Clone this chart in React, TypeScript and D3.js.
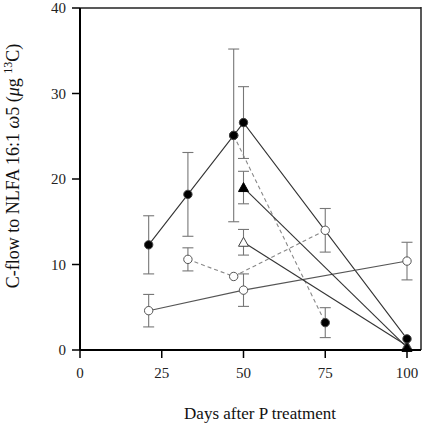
import React from "react";
import * as d3 from "d3";

// Filled circles, solid line
const fcDays = [21, 33, 47, 50, 100];
const fcVals = [12.3, 18.2, 25.1, 26.6, 1.3];
const fcErr = [3.4, 4.9, 10.1, 4.2, 0];
// Filled circles, dashed line (from day 47)
const fdDays = [47, 75];
const fdVals = [25.1, 3.2];
const fdErr = [0, 1.75];
// Open circles, dashed line
const odDays = [33, 47, 75];
const odVals = [10.6, 8.6, 14.0];
const odErr = [1.35, 0, 2.55];
// Open circles, solid line
const osDays = [21, 50, 100];
const osVals = [4.6, 7.0, 10.4];
const osErr = [1.9, 1.9, 2.2];
// Filled triangles
const ftDays = [50, 100];
const ftVals = [19.0, 0.3];
const ftErr = [1.9, 0];
// Open triangles
const otDays = [50, 100];
const otVals = [12.6, 0.5];
const otErr = [1.5, 0];

const xTicks = [0, 25, 50, 75, 100];
const yTicks = [0, 10, 20, 30, 40];

const FONT = "'Liberation Serif', 'DejaVu Serif', serif";

export default function App() {
  const x = d3.scaleLinear().domain([0, 100]).range([80, 407]);
  const y = d3.scaleLinear().domain([0, 40]).range([350, 8]);
  const line = d3
    .line<[number, number]>()
    .x((d) => x(d[0]))
    .y((d) => y(d[1]));

  const zip = (a: number[], b: number[]) => a.map((v, i) => [v, b[i]] as [number, number]);

  const errBars = (days: number[], vals: number[], errs: number[], key: string) =>
    days.map((d, i) =>
      errs[i] > 0 ? (
        <g key={key + i} stroke="#777" strokeWidth={1.1} fill="none">
          <line x1={x(d)} x2={x(d)} y1={y(vals[i] - errs[i])} y2={y(vals[i] + errs[i])} />
          <line x1={x(d) - 5.5} x2={x(d) + 5.5} y1={y(vals[i] - errs[i])} y2={y(vals[i] - errs[i])} />
          <line x1={x(d) - 5.5} x2={x(d) + 5.5} y1={y(vals[i] + errs[i])} y2={y(vals[i] + errs[i])} />
        </g>
      ) : null
    );

  const tri = (cx: number, cy: number) => {
    const s = 5;
    return `M${cx},${cy - s}L${cx + s},${cy + s * 0.8}L${cx - s},${cy + s * 0.8}Z`;
  };

  return (
    <svg width={428} height={426} style={{ position: "absolute", left: 0, top: 0 }}>
      <rect x={0} y={0} width={428} height={426} fill="#fff" />
      {/* error bars */}
      {errBars(fcDays, fcVals, fcErr, "fc")}
      {errBars(fdDays, fdVals, fdErr, "fd")}
      {errBars(odDays, odVals, odErr, "od")}
      {errBars(osDays, osVals, osErr, "os")}
      {errBars(ftDays, ftVals, ftErr, "ft")}
      {errBars(otDays, otVals, otErr, "ot")}

      {/* lines */}
      <path d={line(zip(fcDays, fcVals)) || ""} fill="none" stroke="#333" strokeWidth={1.1} />
      <path d={line(zip(fdDays, fdVals)) || ""} fill="none" stroke="#888" strokeWidth={1.1} strokeDasharray="4,3" />
      <path d={line(zip(odDays, odVals)) || ""} fill="none" stroke="#888" strokeWidth={1.1} strokeDasharray="4,3" />
      <path d={line(zip(osDays, osVals)) || ""} fill="none" stroke="#555" strokeWidth={1.1} />
      <path d={line(zip(ftDays, ftVals)) || ""} fill="none" stroke="#333" strokeWidth={1.1} />
      <path d={line(zip(otDays, otVals)) || ""} fill="none" stroke="#333" strokeWidth={1.1} />

      {/* markers */}
      {osDays.map((d, i) => (
        <circle key={"osm" + i} cx={x(d)} cy={y(osVals[i])} r={4.2} fill="#fff" stroke="#555" strokeWidth={1} />
      ))}
      {odDays.map((d, i) => (
        <circle key={"odm" + i} cx={x(d)} cy={y(odVals[i])} r={4.2} fill="#fff" stroke="#555" strokeWidth={1} />
      ))}
      {otDays.map((d, i) => (
        <path key={"otm" + i} d={tri(x(d), y(otVals[i]))} fill="#fff" stroke="#444" strokeWidth={1} />
      ))}
      {ftDays.map((d, i) => (
        <path key={"ftm" + i} d={tri(x(d), y(ftVals[i]))} fill="#000" stroke="#000" strokeWidth={1} />
      ))}
      {fdDays.map((d, i) => (
        <circle key={"fdm" + i} cx={x(d)} cy={y(fdVals[i])} r={4.2} fill="#000" stroke="#444" strokeWidth={1} />
      ))}
      {fcDays.map((d, i) => (
        <circle key={"fcm" + i} cx={x(d)} cy={y(fcVals[i])} r={4.2} fill="#000" stroke="#444" strokeWidth={1} />
      ))}

      {/* frame */}
      <line x1={80} x2={421} y1={8} y2={8} stroke="#222" strokeWidth={1.5} />
      <line x1={421} x2={421} y1={7} y2={350} stroke="#222" strokeWidth={1.5} />
      <line x1={80} x2={80} y1={8} y2={350} stroke="#000" strokeWidth={2} />
      <line x1={80} x2={421} y1={350} y2={350} stroke="#000" strokeWidth={2} />

      {/* y ticks */}
      {yTicks.map((t) => (
        <g key={"yt" + t}>
          <line x1={72} x2={80} y1={y(t)} y2={y(t)} stroke="#000" strokeWidth={1.5} />
          <text x={66} y={y(t)} dy="0.35em" textAnchor="end" fontFamily={FONT} fontSize={15} fill="#222">
            {t}
          </text>
        </g>
      ))}
      {/* x ticks */}
      {xTicks.map((t) => (
        <g key={"xt" + t}>
          <line x1={x(t)} x2={x(t)} y1={350} y2={358} stroke="#000" strokeWidth={1.5} />
          <text x={x(t)} y={378} textAnchor="middle" fontFamily={FONT} fontSize={15} fill="#222">
            {t}
          </text>
        </g>
      ))}

      <text x={260} y={419} textAnchor="middle" fontFamily={FONT} fontSize={17} fill="#111">
        Days after P treatment
      </text>
      <text
        transform="translate(19,166) rotate(-90)"
        textAnchor="middle"
        fontFamily={FONT}
        fontSize={18}
        fill="#111"
      >
        C-flow to NLFA 16:1 <tspan fontStyle="italic">ω</tspan>5 (<tspan fontStyle="italic">μ</tspan>g{" "}
        <tspan fontSize={12} dy={-7}>13</tspan>
        <tspan dy={7}>C)</tspan>
      </text>
    </svg>
  );
}
